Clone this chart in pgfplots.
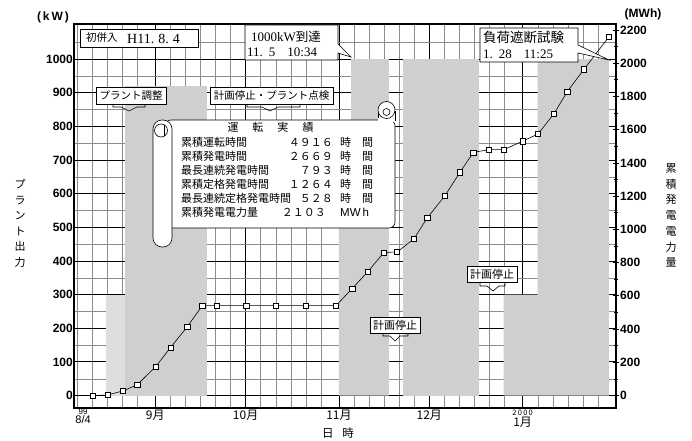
\documentclass[border=0pt]{standalone}
\usepackage{fontspec}
\setmainfont{Liberation Sans}
\newfontfamily\cjk{Noto Sans CJK JP}
\newfontfamily\ser{Liberation Serif}
\usepackage{pgfplots}
\pgfplotsset{compat=1.18}
\definecolor{stip}{gray}{0.81}
\definecolor{stipl}{gray}{0.87}
\begin{document}
\begin{tikzpicture}
\begin{axis}[
  scale only axis, width=542pt, height=384pt,
  xmin=4, xmax=184, ymin=-37, ymax=1104,
  xtick={31,61,92,122,153},
  xticklabels={9月,10月,11月,12月,{{\fontsize{7.5}{8}\selectfont 2\,0\,0\,0}\\1月}},
  xticklabel style={font=\cjk\fontsize{12}{11}\selectfont, align=center, inner sep=2pt},
  extra x ticks={7},
  extra x tick labels={{{\fontsize{8}{8}\selectfont 99}\\8/4}},
  extra x tick style={grid=none, xticklabel style={font=\fontsize{11}{9}\selectfont, align=center, inner sep=1pt}},
  minor xtick={5,10,15,20,25,36,41,46,51,56,66,71,76,81,86,97,102,107,112,117,127,132,137,142,147,158,163,168,173,178},
  ytick={0,100,...,1000},
  minor ytick={50,150,...,1050},
  grid=both,
  major grid style={black, line width=0.8pt},
  minor grid style={black!45, line width=0.4pt},
  major tick length=0pt, minor tick length=0pt,
  axis line style={line width=1.2pt},
  yticklabel style={font=\fontsize{12}{12}\selectfont\bfseries, inner sep=1pt},
  /pgf/number format/assume math mode=true,
  /pgf/number format/1000 sep={},
]
% plant output (kW) operating periods
\addplot[fill=stipl, draw=none] coordinates {(14.7,0) (14.7,300) (21,300) (21,0)} -- cycle;
\addplot[fill=stip, draw=none] coordinates {(21,0) (21,920) (48.3,920) (48.3,0)} -- cycle;
\addplot[fill=stip, draw=none] coordinates {(92,0) (92,800) (96,800) (96,1000) (108.6,1000) (108.6,0)} -- cycle;
\addplot[fill=stip, draw=none] coordinates {(113.3,0) (113.3,1000) (138.4,1000) (138.4,0)} -- cycle;
\addplot[fill=stip, draw=none] coordinates {(146.7,0) (146.7,300) (158,300) (158,1000) (181.6,1000) (181.6,0)} -- cycle;
\end{axis}
\begin{axis}[
  scale only axis, width=542pt, height=384pt,
  xmin=4, xmax=184, ymin=-75, ymax=2236,
  axis x line=none, axis y line*=right,
  y axis line style={line width=1.2pt},
  ytick={0,200,...,2200}, minor ytick={100,300,...,2100},
  tick align=center,
  major tick length=6pt, minor tick length=4pt,
  tick style={black, line width=0.8pt},
  yticklabel style={font=\fontsize{12}{12}\selectfont\bfseries, inner sep=1pt},
  /pgf/number format/assume math mode=true,
  /pgf/number format/1000 sep={},
]
\addplot[black, line width=0.6pt, mark=square*, mark options={fill=white, draw=black, line width=0.5pt}, mark size=2.6pt] coordinates {
(10.2,0) (15.1,3) (20.3,28) (25.0,65) (31.1,173) (36.1,290) (41.6,414) (46.6,541)
(51.3,541) (61.2,541) (71.0,541) (81.0,541) (91.0,541) (96.4,644) (101.6,746)
(106.9,861) (111.3,864) (116.9,943) (121.3,1069) (127.2,1203) (132.2,1344)
(136.6,1463) (141.8,1480) (146.8,1480) (152.9,1530) (158.1,1574) (163.4,1696)
(167.8,1829) (173.4,1964) (181.7,2160)};
\end{axis}
\begin{scope}[x=1pt,y=-1pt,shift={(-74pt,408pt)},every node/.style={inner sep=0pt}]
\tikzset{bx/.style={draw=black, fill=white, line width=0.6pt}}
% axis titles
\node[font=\bfseries\fontsize{12}{12}\selectfont] at (53,17) {(\,k\,W\,)};
\node[font=\bfseries\fontsize{12}{12}\selectfont] at (643,14) {(MWh)};
\node[font=\cjk\fontsize{11}{15.5}\selectfont, align=center] at (20,223.5) {プ\\ラ\\ン\\ト\\出\\力};
\node[font=\cjk\fontsize{11}{15.7}\selectfont, align=center] at (671,215.5) {累\\積\\発\\電\\電\\力\\量};
\node[font=\cjk\fontsize{11.5}{11.5}\selectfont] at (338,433.5) {日\hspace{9pt}時};
% first connection box
\draw[bx] (80,29) rectangle (198,47);
\node[font=\cjk\fontsize{10.5}{10.5}\selectfont, anchor=west] at (86,38) {初併入};
\node[font=\ser\fontsize{14}{14}\selectfont, anchor=west] at (127,38.5) {H11.\hspace{4pt}8.\hspace{4pt}4};
% 1000kW box
\draw[bx] (245,25) -- (338,25) -- (338,44) -- (351,57) -- (338,53) -- (338,60) -- (245,60) -- cycle;
\node[anchor=west] at (251,37) {{\ser\fontsize{13}{13}\selectfont 1000kW}{\cjk\fontsize{12.5}{12.5}\selectfont 到達}};
\node[anchor=west, font=\ser\fontsize{13}{13}\selectfont] at (247,52) {11.\hspace{6pt}5\hspace{12pt}10:34};
% plant adjustment
\draw[bx] (96,87) rectangle (166,104);
\node[font=\cjk\fontsize{10.5}{10.5}\selectfont] at (131,95.5) {プラント調整};
\draw[line width=0.6pt] (113,104) -- (113,107) -- (121,107) -- (129,111) -- (137,107) -- (145,107) -- (145,104);
\draw[bx] (210,87) rectangle (333,104);
\node[font=\cjk\fontsize{10.5}{10.5}\selectfont] at (271.5,95.5) {計画停止・プラント点検};
\draw[line width=0.6pt] (247,104) -- (247,107) -- (262,107) -- (270,111) -- (278,107) -- (300,107) -- (300,104);
% planned stops
\draw[bx] (370,317) rectangle (420,333);
\node[font=\cjk\fontsize{11}{11}\selectfont] at (395,325) {計画停止};
\draw[line width=0.6pt] (383,333) -- (383,336) -- (390,336) -- (395,341) -- (400,336) -- (408,336) -- (408,333);
\draw[bx] (467,266) rectangle (517,282);
\node[font=\cjk\fontsize{11}{11}\selectfont] at (492,274) {計画停止};
\draw[line width=0.6pt] (480,282) -- (480,286) -- (487,286) -- (493,291) -- (499,286) -- (505,286) -- (505,282);
% load rejection test box
\draw[bx] (480,28) -- (578,28) -- (578,45) -- (609,60) -- (578,53) -- (578,62) -- (480,62) -- cycle;
\node[anchor=west, font=\cjk\fontsize{13.5}{13.5}\selectfont] at (483,37) {負荷遮断試験};
\node[anchor=west, font=\ser\fontsize{13}{13}\selectfont] at (483,54) {1.\hspace{6pt}28\hspace{12pt}11:25};
% scroll
\draw[bx, rounded corners=6pt] (165,120) rectangle (395,228);
\draw[bx] (378,121) -- (378,111) -- (395,111) -- (395,121);
\fill[white] (378.4,118) rectangle (394.6,122);
\draw[bx] (386.5,110) circle[radius=8.5];
\draw[line width=0.6pt] (386.5,112) circle[radius=3.5];
\draw[bx, rounded corners=9pt] (153,120) rectangle (172,247);
\draw[line width=0.6pt] (161,130.5) circle[radius=6.5];
\draw[line width=0.6pt] (164,124.5) -- (164,136);
\begin{scope}[font=\cjk\fontsize{11}{11}\selectfont]
\node at (270.5,127.5) {運\hspace{14pt}転\hspace{14pt}実\hspace{14pt}績};
\node[anchor=west] at (181,142.5) {累積運転時間};
\node[anchor=west] at (181,156) {累積発電時間};
\node[anchor=west] at (181,170) {最長連続発電時間};
\node[anchor=west] at (181,184) {累積定格発電時間};
\node[anchor=west] at (181,198.5) {最長連続定格発電時間};
\node[anchor=west] at (181,212.5) {累積発電電力量};
\node[anchor=east] at (333,142.5) {４９１６};
\node[anchor=east] at (333,156) {２６６９};
\node[anchor=east] at (333,170) {７９３};
\node[anchor=east] at (333,184) {１２６４};
\node[anchor=east] at (333,198.5) {５２８};
\node[anchor=east] at (326,212.5) {２１０３};
\node[anchor=west] at (340,142.5) {時　間};
\node[anchor=west] at (340,156) {時　間};
\node[anchor=west] at (340,170) {時　間};
\node[anchor=west] at (340,184) {時　間};
\node[anchor=west] at (340,198.5) {時　間};
\node[anchor=west, font=\fontsize{11.5}{11.5}\selectfont] at (340,212.5) {MW\,h};
\end{scope}
\end{scope}
\pgfresetboundingbox
\path[use as bounding box] (-74pt,-32pt) rectangle (618pt,408pt);
\end{tikzpicture}
\end{document}
